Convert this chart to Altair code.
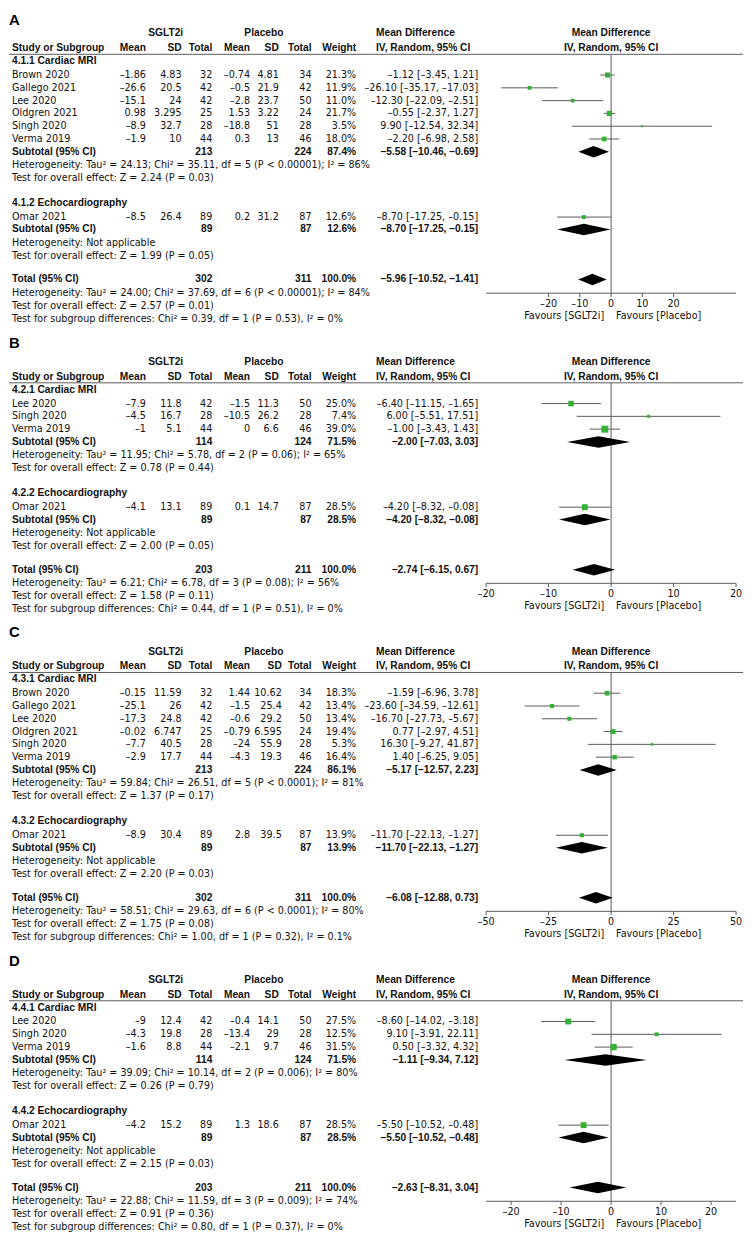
import altair as alt
import pandas as pd

MINUS = "\u2013"

# ---------------- Panel A (4.1) ----------------
A_names = ["Brown 2020", "Gallego 2021", "Lee 2020", "Oldgren 2021", "Singh 2020", "Verma 2019", "Omar 2021"]
A_group = [1, 1, 1, 1, 1, 1, 2]
A_sg_mean = [-1.86, -26.6, -15.1, 0.98, -8.9, -1.9, -8.5]
A_sg_sd = [4.83, 20.5, 24, 3.295, 32.7, 10, 26.4]
A_sg_n = [32, 42, 42, 25, 28, 44, 89]
A_pl_mean = [-0.74, -0.5, -2.8, 1.53, -18.8, 0.3, 0.2]
A_pl_sd = [4.81, 21.9, 23.7, 3.22, 51, 13, 31.2]
A_pl_n = [34, 42, 50, 24, 28, 46, 87]
A_weight = [21.3, 11.9, 11.0, 21.7, 3.5, 18.0, 12.6]
A_md = [-1.12, -26.10, -12.30, -0.55, 9.90, -2.20, -8.70]
A_lo = [-3.45, -35.17, -22.09, -2.37, -12.54, -6.98, -17.25]
A_hi = [1.21, -17.03, -2.51, 1.27, 32.34, 2.58, -0.15]
A_sub_sg_n = [213, 89, 302]
A_sub_pl_n = [224, 87, 311]
A_sub_weight = [87.4, 12.6, 100.0]
A_sub_md = [-5.58, -8.70, -5.96]
A_sub_lo = [-10.46, -17.25, -10.52]
A_sub_hi = [-0.69, -0.15, -1.41]
A_subgroups = ["4.1.1 Cardiac MRI", "4.1.2 Echocardiography"]
A_het = ["Heterogeneity: Tau² = 24.13; Chi² = 35.11, df = 5 (P < 0.00001); I² = 86%",
         "Heterogeneity: Not applicable",
         "Heterogeneity: Tau² = 24.00; Chi² = 37.69, df = 6 (P < 0.00001); I² = 84%"]
A_z = ["Test for overall effect: Z = 2.24 (P = 0.03)",
       "Test for overall effect: Z = 1.99 (P = 0.05)",
       "Test for overall effect: Z = 2.57 (P = 0.01)"]
A_diff = "Test for subgroup differences: Chi² = 0.39, df = 1 (P = 0.53), I² = 0%"
A_domain = [-40, 40]
A_ticks = [-20, -10, 0, 10, 20]

# ---------------- Panel B (4.2) ----------------
B_names = ["Lee 2020", "Singh 2020", "Verma 2019", "Omar 2021"]
B_group = [1, 1, 1, 2]
B_sg_mean = [-7.9, -4.5, -1, -4.1]
B_sg_sd = [11.8, 16.7, 5.1, 13.1]
B_sg_n = [42, 28, 44, 89]
B_pl_mean = [-1.5, -10.5, 0, 0.1]
B_pl_sd = [11.3, 26.2, 6.6, 14.7]
B_pl_n = [50, 28, 46, 87]
B_weight = [25.0, 7.4, 39.0, 28.5]
B_md = [-6.40, 6.00, -1.00, -4.20]
B_lo = [-11.15, -5.51, -3.43, -8.32]
B_hi = [-1.65, 17.51, 1.43, -0.08]
B_sub_sg_n = [114, 89, 203]
B_sub_pl_n = [124, 87, 211]
B_sub_weight = [71.5, 28.5, 100.0]
B_sub_md = [-2.00, -4.20, -2.74]
B_sub_lo = [-7.03, -8.32, -6.15]
B_sub_hi = [3.03, -0.08, 0.67]
B_subgroups = ["4.2.1 Cardiac MRI", "4.2.2 Echocardiography"]
B_het = ["Heterogeneity: Tau² = 11.95; Chi² = 5.78, df = 2 (P = 0.06); I² = 65%",
         "Heterogeneity: Not applicable",
         "Heterogeneity: Tau² = 6.21; Chi² = 6.78, df = 3 (P = 0.08); I² = 56%"]
B_z = ["Test for overall effect: Z = 0.78 (P = 0.44)",
       "Test for overall effect: Z = 2.00 (P = 0.05)",
       "Test for overall effect: Z = 1.58 (P = 0.11)"]
B_diff = "Test for subgroup differences: Chi² = 0.44, df = 1 (P = 0.51), I² = 0%"
B_domain = [-20, 20]
B_ticks = [-20, -10, 0, 10, 20]

# ---------------- Panel C (4.3) ----------------
C_names = ["Brown 2020", "Gallego 2021", "Lee 2020", "Oldgren 2021", "Singh 2020", "Verma 2019", "Omar 2021"]
C_group = [1, 1, 1, 1, 1, 1, 2]
C_sg_mean = [-0.15, -25.1, -17.3, -0.02, -7.7, -2.9, -8.9]
C_sg_sd = [11.59, 26, 24.8, 6.747, 40.5, 17.7, 30.4]
C_sg_n = [32, 42, 42, 25, 28, 44, 89]
C_pl_mean = [1.44, -1.5, -0.6, -0.79, -24, -4.3, 2.8]
C_pl_sd = [10.62, 25.4, 29.2, 6.595, 55.9, 19.3, 39.5]
C_pl_n = [34, 42, 50, 24, 28, 46, 87]
C_weight = [18.3, 13.4, 13.4, 19.4, 5.3, 16.4, 13.9]
C_md = [-1.59, -23.60, -16.70, 0.77, 16.30, 1.40, -11.70]
C_lo = [-6.96, -34.59, -27.73, -2.97, -9.27, -6.25, -22.13]
C_hi = [3.78, -12.61, -5.67, 4.51, 41.87, 9.05, -1.27]
C_sub_sg_n = [213, 89, 302]
C_sub_pl_n = [224, 87, 311]
C_sub_weight = [86.1, 13.9, 100.0]
C_sub_md = [-5.17, -11.70, -6.08]
C_sub_lo = [-12.57, -22.13, -12.88]
C_sub_hi = [2.23, -1.27, 0.73]
C_subgroups = ["4.3.1 Cardiac MRI", "4.3.2 Echocardiography"]
C_het = ["Heterogeneity: Tau² = 59.84; Chi² = 26.51, df = 5 (P < 0.0001); I² = 81%",
         "Heterogeneity: Not applicable",
         "Heterogeneity: Tau² = 58.51; Chi² = 29.63, df = 6 (P < 0.0001); I² = 80%"]
C_z = ["Test for overall effect: Z = 1.37 (P = 0.17)",
       "Test for overall effect: Z = 2.20 (P = 0.03)",
       "Test for overall effect: Z = 1.75 (P = 0.08)"]
C_diff = "Test for subgroup differences: Chi² = 1.00, df = 1 (P = 0.32), I² = 0.1%"
C_domain = [-50, 50]
C_ticks = [-50, -25, 0, 25, 50]

# ---------------- Panel D (4.4) ----------------
D_names = ["Lee 2020", "Singh 2020", "Verma 2019", "Omar 2021"]
D_group = [1, 1, 1, 2]
D_sg_mean = [-9, -4.3, -1.6, -4.2]
D_sg_sd = [12.4, 19.8, 8.8, 15.2]
D_sg_n = [42, 28, 44, 89]
D_pl_mean = [-0.4, -13.4, -2.1, 1.3]
D_pl_sd = [14.1, 29, 9.7, 18.6]
D_pl_n = [50, 28, 46, 87]
D_weight = [27.5, 12.5, 31.5, 28.5]
D_md = [-8.60, 9.10, 0.50, -5.50]
D_lo = [-14.02, -3.91, -3.32, -10.52]
D_hi = [-3.18, 22.11, 4.32, -0.48]
D_sub_sg_n = [114, 89, 203]
D_sub_pl_n = [124, 87, 211]
D_sub_weight = [71.5, 28.5, 100.0]
D_sub_md = [-1.11, -5.50, -2.63]
D_sub_lo = [-9.34, -10.52, -8.31]
D_sub_hi = [7.12, -0.48, 3.04]
D_subgroups = ["4.4.1 Cardiac MRI", "4.4.2 Echocardiography"]
D_het = ["Heterogeneity: Tau² = 39.09; Chi² = 10.14, df = 2 (P = 0.006); I² = 80%",
         "Heterogeneity: Not applicable",
         "Heterogeneity: Tau² = 22.88; Chi² = 11.59, df = 3 (P = 0.009); I² = 74%"]
D_z = ["Test for overall effect: Z = 0.26 (P = 0.79)",
       "Test for overall effect: Z = 2.15 (P = 0.03)",
       "Test for overall effect: Z = 0.91 (P = 0.36)"]
D_diff = "Test for subgroup differences: Chi² = 0.80, df = 1 (P = 0.37), I² = 0%"
D_domain = [-25, 25]
D_ticks = [-20, -10, 0, 10, 20]

# ---------------- styling / layout ----------------
P = 12.9          # pixels per text line
W = 740
XR = [481, 733]   # forest plot pixel range
FONT, FS = "DejaVu Sans", 9.7
BFONT, BFS = "Liberation Sans", 10.3
GREEN = "#35b035"
LINE = "#5a5a5a"
TXT = "#111111"

BASE_COLS = {
    "name": (3, "left"), "sgm": (138, "right"), "sgsd": (174, "right"), "sgn": (205, "right"),
    "plm": (243, "right"), "plsd": (272, "right"), "pln": (305, "right"), "w": (350, "right"),
    "md": (473, "right"), "mdh": (370, "left"), "g1": (158, "center"), "g2": (257, "center"),
    "fh": (607, "center"),
}


def num(v):
    return str(v).replace("-", MINUS)


def ci(m, l, h):
    return f"{m:.2f} [{l:.2f}, {h:.2f}]".replace("-", MINUS)


def pct(v):
    return f"{v:.1f}%"


def panel(letter, names, group, sgm, sgsd, sgn, plm, plsd, pln, wt, md, lo, hi,
          s_sgn, s_pln, s_w, s_md, s_lo, s_hi, subgroups, het, zt, diff, dom, ticks,
          col_shift=None, letter_row=-1.5, top=-2.08):
    cols = dict(BASE_COLS)
    if col_shift:
        for k, v in col_shift.items():
            cols[k] = (cols[k][0] + v, cols[k][1])
    n = sum(1 for g in group if g == 1)
    R = dict(letter=letter_row, hdr1=0.0, hdr2=1.16, rule=1.63, sub1=2.17,
             subtot1=3.25 + n, het1=4.27 + n, z1=5.27 + n, sub2=7.27 + n,
             subtot2=9.32 + n, het2=10.37 + n, z2=11.37 + n, tot=13.23 + n,
             het3=14.25 + n, axis=14.3 + n, z3=15.27 + n, diff=16.3 + n,
             top=top, bottom=16.85 + n)
    cells = []

    def add(r, col, text, b=0):
        cells.append({"r": r, "col": col, "t": text, "b": b})

    add(R["hdr1"], "g1", "SGLT2i", 1)
    add(R["hdr1"], "g2", "Placebo", 1)
    add(R["hdr1"], "mdh", "Mean Difference", 1)
    add(R["hdr1"], "fh", "Mean Difference", 1)
    for col, t in [("name", "Study or Subgroup"), ("sgm", "Mean"), ("sgsd", "SD"), ("sgn", "Total"),
                   ("plm", "Mean"), ("plsd", "SD"), ("pln", "Total"), ("w", "Weight"),
                   ("mdh", "IV, Random, 95% CI"), ("fh", "IV, Random, 95% CI")]:
        add(R["hdr2"], col, t, 1)
    add(R["sub1"], "name", subgroups[0], 1)
    add(R["sub2"], "name", subgroups[1], 1)

    study_rows = []
    i1 = 0
    for k in range(len(names)):
        if group[k] == 1:
            r = 3.25 + i1
            i1 += 1
        else:
            r = 8.35 + n
        study_rows.append(r)
        add(r, "name", names[k])
        add(r, "sgm", num(sgm[k]))
        add(r, "sgsd", num(sgsd[k]))
        add(r, "sgn", num(sgn[k]))
        add(r, "plm", num(plm[k]))
        add(r, "plsd", num(plsd[k]))
        add(r, "pln", num(pln[k]))
        add(r, "w", pct(wt[k]))
        add(r, "md", ci(md[k], lo[k], hi[k]))

    sum_rows = [R["subtot1"], R["subtot2"], R["tot"]]
    sum_names = ["Subtotal (95% CI)", "Subtotal (95% CI)", "Total (95% CI)"]
    for j in range(3):
        r = sum_rows[j]
        add(r, "name", sum_names[j], 1)
        add(r, "sgn", num(s_sgn[j]), 1)
        add(r, "pln", num(s_pln[j]), 1)
        add(r, "w", pct(s_w[j]), 1)
        add(r, "md", ci(s_md[j], s_lo[j], s_hi[j]), 1)
    for j, key in enumerate(["het1", "het2", "het3"]):
        add(R[key], "name", het[j])
    for j, key in enumerate(["z1", "z2", "z3"]):
        add(R[key], "name", zt[j])
    add(R["diff"], "name", diff)

    cdf = pd.DataFrame(cells)

    yscale = alt.Scale(domain=[R["top"], R["bottom"]], reverse=True, nice=False, zero=False)
    xscale = alt.Scale(domain=dom, range=XR, nice=False, zero=False)
    Y = alt.Y("r:Q", scale=yscale, axis=None)
    X = alt.X("x:Q", scale=xscale, axis=None)

    layers = []
    for col, (xp, al) in cols.items():
        for b in (0, 1):
            sub = cdf[(cdf.col == col) & (cdf.b == b)]
            if len(sub) == 0:
                continue
            if b:
                mk = alt.Chart(sub).mark_text(font=BFONT, fontSize=BFS, fontWeight="bold",
                                              align=al, baseline="middle", color=TXT)
            else:
                mk = alt.Chart(sub).mark_text(font=FONT, fontSize=FS, align=al,
                                              baseline="middle", color=TXT)
            layers.append(mk.encode(x=alt.value(xp), y=Y, text="t:N"))

    # panel letter
    layers.append(alt.Chart(pd.DataFrame({"r": [R["letter"]], "t": [letter]})).mark_text(
        font=BFONT, fontSize=15, fontWeight="bold", align="left", baseline="middle", color="#000"
    ).encode(x=alt.value(0), y=Y, text="t:N"))

    # header rule
    layers.append(alt.Chart(pd.DataFrame({"r": [R["rule"]]})).mark_rule(color=LINE, strokeWidth=1).encode(
        x=alt.value(0), x2=alt.value(W), y=Y))

    # zero line
    layers.append(alt.Chart(pd.DataFrame({"x": [0], "r": [R["rule"]], "r2": [R["axis"]]})).mark_rule(
        color=LINE, strokeWidth=1).encode(x=X, y=Y, y2=alt.Y2("r2:Q")))

    # axis line, ticks, labels
    layers.append(alt.Chart(pd.DataFrame({"x": [dom[0]], "x2": [dom[1]], "r": [R["axis"]]})).mark_rule(
        color=LINE, strokeWidth=1).encode(x=X, x2=alt.X2("x2:Q"), y=Y))
    tdf = pd.DataFrame({"x": ticks, "r": [R["axis"]] * len(ticks), "r2": [R["axis"] + 0.3] * len(ticks),
                        "lab": [num(t) for t in ticks], "rl": [R["axis"] + 0.82] * len(ticks)})
    layers.append(alt.Chart(tdf).mark_rule(color=LINE, strokeWidth=1).encode(x=X, y=Y, y2=alt.Y2("r2:Q")))
    layers.append(alt.Chart(tdf).mark_text(font=FONT, fontSize=FS, baseline="middle", color=TXT).encode(
        x=X, y=alt.Y("rl:Q", scale=yscale, axis=None), text="lab:N"))
    fdf = pd.DataFrame({"x": [0], "r": [R["axis"] + 1.75]})
    layers.append(alt.Chart(fdf).mark_text(font=FONT, fontSize=FS, align="right", dx=-7, baseline="middle",
                                           color=TXT, text="Favours [SGLT2i]").encode(x=X, y=Y))
    layers.append(alt.Chart(fdf).mark_text(font=FONT, fontSize=FS, align="left", dx=5, baseline="middle",
                                           color=TXT, text="Favours [Placebo]").encode(x=X, y=Y))

    # study CIs and squares
    sdf = pd.DataFrame({"x": md, "lo": lo, "hi": hi, "r": study_rows, "w": wt})
    layers.append(alt.Chart(sdf).mark_rule(color=LINE, strokeWidth=1).encode(
        x=alt.X("lo:Q", scale=xscale, axis=None), x2=alt.X2("hi:Q"), y=Y))
    layers.append(alt.Chart(sdf).mark_point(shape="square", filled=True, opacity=1, color=GREEN).encode(
        x=X, y=Y, size=alt.Size("w:Q", scale=alt.Scale(domain=[0, 100], range=[0, 125]), legend=None)))

    # diamonds
    h = 0.45
    drows = []
    for j in range(3):
        r = sum_rows[j]
        drows += [{"id": j, "x": s_lo[j], "r": r, "r2": r},
                  {"id": j, "x": s_md[j], "r": r - h, "r2": r + h},
                  {"id": j, "x": s_hi[j], "r": r, "r2": r}]
    layers.append(alt.Chart(pd.DataFrame(drows)).mark_area(color="#000", opacity=1).encode(
        x=X, y=Y, y2=alt.Y2("r2:Q"), detail="id:N"))

    height = round((R["bottom"] - R["top"]) * P, 1)
    return alt.layer(*layers).properties(width=W, height=height)


pA = panel("A", A_names, A_group, A_sg_mean, A_sg_sd, A_sg_n, A_pl_mean, A_pl_sd, A_pl_n, A_weight,
           A_md, A_lo, A_hi, A_sub_sg_n, A_sub_pl_n, A_sub_weight, A_sub_md, A_sub_lo, A_sub_hi,
           A_subgroups, A_het, A_z, A_diff, A_domain, A_ticks, letter_row=-1.02, top=-1.6)
pB = panel("B", B_names, B_group, B_sg_mean, B_sg_sd, B_sg_n, B_pl_mean, B_pl_sd, B_pl_n, B_weight,
           B_md, B_lo, B_hi, B_sub_sg_n, B_sub_pl_n, B_sub_weight, B_sub_md, B_sub_lo, B_sub_hi,
           B_subgroups, B_het, B_z, B_diff, B_domain, B_ticks)
pC = panel("C", C_names, C_group, C_sg_mean, C_sg_sd, C_sg_n, C_pl_mean, C_pl_sd, C_pl_n, C_weight,
           C_md, C_lo, C_hi, C_sub_sg_n, C_sub_pl_n, C_sub_weight, C_sub_md, C_sub_lo, C_sub_hi,
           C_subgroups, C_het, C_z, C_diff, C_domain, C_ticks, col_shift={"plsd": 3})
pD = panel("D", D_names, D_group, D_sg_mean, D_sg_sd, D_sg_n, D_pl_mean, D_pl_sd, D_pl_n, D_weight,
           D_md, D_lo, D_hi, D_sub_sg_n, D_sub_pl_n, D_sub_weight, D_sub_md, D_sub_lo, D_sub_hi,
           D_subgroups, D_het, D_z, D_diff, D_domain, D_ticks)

chart = alt.vconcat(pA, pB, pC, pD, spacing=9).properties(padding=0).configure_view(stroke=None)
chart.save("out.html", embed_options={"renderer": "svg", "actions": False})
